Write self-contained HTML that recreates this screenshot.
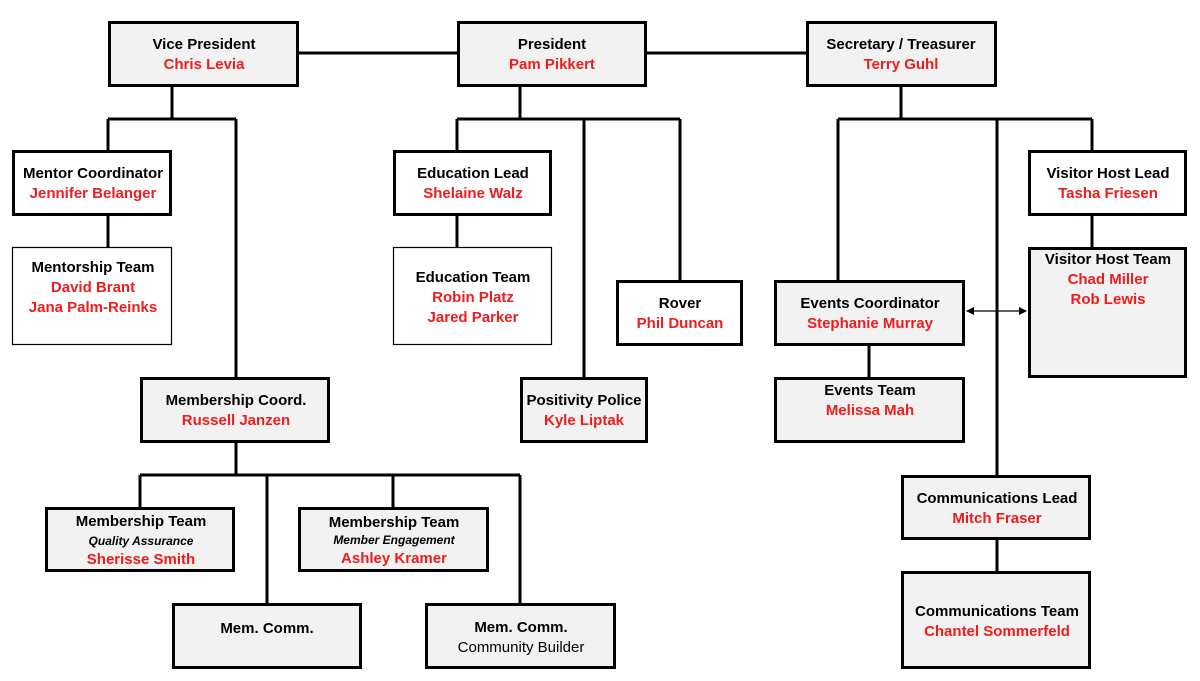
<!DOCTYPE html>
<html><head><meta charset="utf-8"><style>
html,body{margin:0;padding:0;background:#fff}
svg{display:block}
text{font-family:"Liberation Sans",Arial,sans-serif;font-weight:bold;font-size:15px;text-anchor:middle}
.r{fill:#ee1c1c}
</style></head><body>
<svg width="1200" height="681" viewBox="0 0 1200 681">
<defs>
<marker id="a" markerWidth="8" markerHeight="8" refX="7" refY="4" orient="auto-start-reverse" markerUnits="userSpaceOnUse"><path d="M0,0 L8,4 L0,8 z" fill="#000"/></marker>
</defs>
<g stroke="#000" stroke-width="3" fill="none">
<path d="M299,53H457M647,53H806"/>
<path d="M172,87V119M108,119H236M108,119V150M236,119V377M108,216V247"/>
<path d="M520,87V119M457,119H680M457,119V150M584,119V377M680,119V280M457,216V247"/>
<path d="M901,87V119M838,119H1092M838,119V280M997,119V475M1092,119V150M1092,216V247M869,346V377M997,540V571"/>
<path d="M236,443V475M140,475H520M140,475V507M267,475V603M393,475V507M520,475V603"/>
</g>
<line x1="967" y1="311" x2="1026" y2="311" stroke="#000" stroke-width="1.3" marker-start="url(#a)" marker-end="url(#a)"/>
<g stroke="#000" stroke-width="3">
<rect x="109.5" y="22.5" width="188" height="63" fill="#f2f2f2"/>
<rect x="458.5" y="22.5" width="187" height="63" fill="#f2f2f2"/>
<rect x="807.5" y="22.5" width="188" height="63" fill="#f2f2f2"/>
<rect x="13.5" y="151.5" width="157" height="63" fill="#fff"/>
<rect x="141.5" y="378.5" width="187" height="63" fill="#f2f2f2"/>
<rect x="46.5" y="508.5" width="187" height="62" fill="#f2f2f2"/>
<rect x="299.5" y="508.5" width="188" height="62" fill="#f2f2f2"/>
<rect x="173.5" y="604.5" width="187" height="63" fill="#f2f2f2"/>
<rect x="426.5" y="604.5" width="188" height="63" fill="#f2f2f2"/>
<rect x="394.5" y="151.5" width="156" height="63" fill="#fff"/>
<rect x="617.5" y="281.5" width="124" height="63" fill="#fff"/>
<rect x="521.5" y="378.5" width="125" height="63" fill="#f2f2f2"/>
<rect x="775.5" y="281.5" width="188" height="63" fill="#f2f2f2"/>
<rect x="775.5" y="378.5" width="188" height="63" fill="#f2f2f2"/>
<rect x="1029.5" y="151.5" width="156" height="63" fill="#fff"/>
<rect x="1029.5" y="248.5" width="156" height="128" fill="#f2f2f2"/>
<rect x="902.5" y="476.5" width="187" height="62" fill="#f2f2f2"/>
<rect x="902.5" y="572.5" width="187" height="95" fill="#f2f2f2"/>
</g>
<g stroke="#000" stroke-width="1.2" fill="#fff">
<rect x="12.5" y="247.5" width="159" height="97"/>
<rect x="393.5" y="247.5" width="158" height="97"/>
</g>
<text x="204" y="49">Vice President</text><text x="204" y="69" class="r">Chris Levia</text>
<text x="552" y="49">President</text><text x="552" y="69" class="r">Pam Pikkert</text>
<text x="901" y="49">Secretary / Treasurer</text><text x="901" y="69" class="r">Terry Guhl</text>
<text x="93" y="178">Mentor Coordinator</text><text x="93" y="198" class="r">Jennifer Belanger</text>
<text x="93" y="272">Mentorship Team</text><text x="93" y="292" class="r">David Brant</text><text x="93" y="312" class="r">Jana Palm-Reinks</text>
<text x="236" y="405">Membership Coord.</text><text x="236" y="425" class="r">Russell Janzen</text>
<text x="141" y="526">Membership Team</text><text x="141" y="545" style="font-size:12px;font-style:italic">Quality Assurance</text><text x="141" y="564" class="r">Sherisse Smith</text>
<text x="394" y="527">Membership Team</text><text x="394" y="544" style="font-size:12px;font-style:italic">Member Engagement</text><text x="394" y="563" class="r">Ashley Kramer</text>
<text x="267" y="633">Mem. Comm.</text>
<text x="521" y="632">Mem. Comm.</text><text x="521" y="652" style="font-weight:normal">Community Builder</text>
<text x="473" y="178">Education Lead</text><text x="473" y="198" class="r">Shelaine Walz</text>
<text x="473" y="282">Education Team</text><text x="473" y="302" class="r">Robin Platz</text><text x="473" y="322" class="r">Jared Parker</text>
<text x="680" y="308">Rover</text><text x="680" y="328" class="r">Phil Duncan</text>
<text x="584" y="405">Positivity Police</text><text x="584" y="425" class="r">Kyle Liptak</text>
<text x="870" y="308">Events Coordinator</text><text x="870" y="328" class="r">Stephanie Murray</text>
<text x="870" y="395">Events Team</text><text x="870" y="415" class="r">Melissa Mah</text>
<text x="1108" y="178">Visitor Host Lead</text><text x="1108" y="198" class="r">Tasha Friesen</text>
<text x="1108" y="264">Visitor Host Team</text><text x="1108" y="284" class="r">Chad Miller</text><text x="1108" y="304" class="r">Rob Lewis</text>
<text x="997" y="503">Communications Lead</text><text x="997" y="523" class="r">Mitch Fraser</text>
<text x="997" y="616">Communications Team</text><text x="997" y="636" class="r">Chantel Sommerfeld</text>
</svg>
</body></html>
